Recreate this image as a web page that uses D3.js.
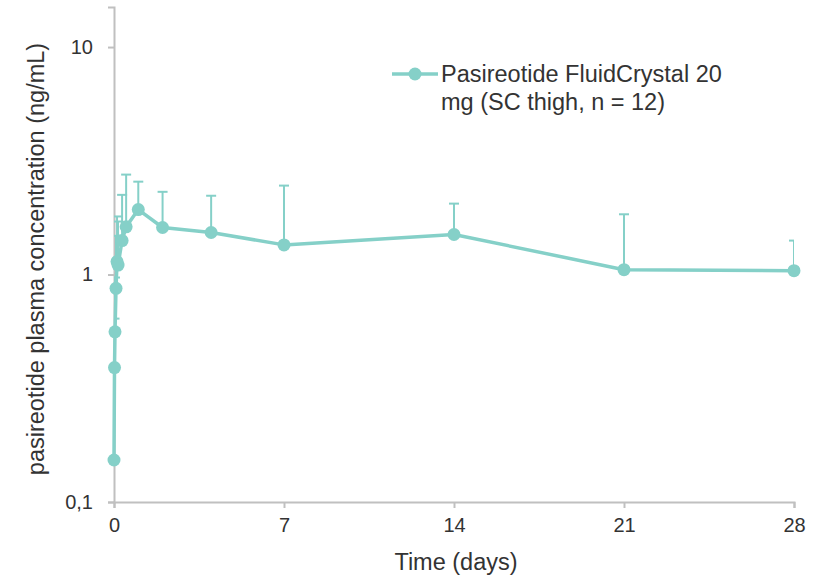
<!DOCTYPE html>
<html>
<head>
<meta charset="utf-8">
<script src="https://cdn.jsdelivr.net/npm/d3@7"></script>
<style>
  body { margin: 0; background: #fff; }
  text { font-family: "Liberation Sans", Arial, sans-serif; fill: #333; }
</style>
</head>
<body>
<svg id="chart" width="814" height="577"></svg>
<script>
// time in days
var days = [0, 0.0208, 0.0417, 0.0833, 0.125, 0.1667, 0.333, 0.5, 1, 2, 4, 7, 14, 21, 28];
// mean concentration ng/mL
var conc = [0.153, 0.39, 0.56, 0.87, 1.14, 1.10, 1.41, 1.62, 1.93, 1.61, 1.53, 1.35, 1.50, 1.05, 1.04];
// mean + SD (upper end of the error bar)
var upper = [0.153, 0.64, 0.97, 1.48, 1.80, 1.71, 2.24, 2.75, 2.56, 2.31, 2.22, 2.46, 2.05, 1.84, 1.41];
var xTicks = [0, 7, 14, 21, 28];
var yTicks = [0.1, 1, 10];
var seriesName = ["Pasireotide FluidCrystal 20", "mg (SC thigh, n = 12)"];

var color = "#85d0c8";
var axisColor = "#c0c0c0";

var svg = d3.select("#chart");
var mLeft = 114, mRight = 794, mTop = 7, mBottom = 502;

var x = d3.scaleLinear().domain([0, 28]).range([mLeft, mRight]);
var y = d3.scaleLog().domain([0.1, 15]).range([mBottom, mTop]);

var data = days.map(function(d, i) {
  return { t: d, v: conc[i], hi: upper[i] };
});

// axes
var xAxis = svg.append("g")
  .attr("transform", "translate(0," + mBottom + ")")
  .call(d3.axisBottom(x).tickValues(xTicks).tickSize(6).tickPadding(10).tickFormat(d3.format("d")));
var yAxis = svg.append("g")
  .attr("transform", "translate(" + mLeft + ",0)")
  .call(d3.axisLeft(y).tickValues(yTicks).tickSize(6).tickPadding(15)
    .tickFormat(function(d) { return String(d).replace(".", ","); }));

[xAxis, yAxis].forEach(function(g) {
  g.select(".domain").attr("stroke", axisColor).attr("stroke-width", 2);
  g.selectAll(".tick line").attr("stroke", axisColor).attr("stroke-width", 2);
  g.selectAll(".tick text")
    .attr("fill", "#333")
    .style("font-family", "'Liberation Sans', Arial, sans-serif")
    .style("font-size", "20px");
});

// error bars, clipped to plot area
svg.append("clipPath").attr("id", "plotClip")
  .append("rect").attr("x", mLeft).attr("y", 0).attr("width", mRight - mLeft).attr("height", mBottom);

var err = svg.append("g").attr("clip-path", "url(#plotClip)")
  .selectAll("g").data(data.filter(function(d) { return d.hi > d.v; }))
  .enter().append("g");
err.append("line")
  .attr("x1", function(d) { return x(d.t); })
  .attr("x2", function(d) { return x(d.t); })
  .attr("y1", function(d) { return y(d.v); })
  .attr("y2", function(d) { return y(d.hi); })
  .attr("stroke", color).attr("stroke-width", 2);
err.append("line")
  .attr("x1", function(d) { return x(d.t) - 5; })
  .attr("x2", function(d) { return x(d.t) + 5; })
  .attr("y1", function(d) { return y(d.hi); })
  .attr("y2", function(d) { return y(d.hi); })
  .attr("stroke", color).attr("stroke-width", 2);

// line
var line = d3.line().x(function(d) { return x(d.t); }).y(function(d) { return y(d.v); });
svg.append("path").datum(data)
  .attr("d", line)
  .attr("fill", "none")
  .attr("stroke", color)
  .attr("stroke-width", 3.5)
  .attr("stroke-linejoin", "round");

svg.append("g").selectAll("circle").data(data).enter().append("circle")
  .attr("cx", function(d) { return x(d.t); })
  .attr("cy", function(d) { return y(d.v); })
  .attr("r", 6.5)
  .attr("fill", color);

// axis titles
svg.append("text")
  .attr("x", 456)
  .attr("y", 570)
  .attr("text-anchor", "middle")
  .style("font-size", "23.5px")
  .text("Time (days)");

svg.append("text")
  .attr("transform", "translate(44,259) rotate(-90)")
  .attr("text-anchor", "middle")
  .style("font-size", "23.5px")
  .text("pasireotide plasma concentration (ng/mL)");

// legend
var lg = svg.append("g").attr("transform", "translate(392,74)");
lg.append("line").attr("x1", 0).attr("x2", 46).attr("y1", 0).attr("y2", 0)
  .attr("stroke", color).attr("stroke-width", 3.5);
lg.append("circle").attr("cx", 23).attr("cy", 0).attr("r", 6.5).attr("fill", color);
lg.append("text").attr("x", 49).attr("y", 0)
  .style("font-size", "23.5px")
  .selectAll("tspan").data(seriesName).enter().append("tspan")
  .attr("x", 49)
  .attr("dy", function(d, i) { return i === 0 ? "0.35em" : "28px"; })
  .text(function(d) { return d; });
</script>
</body>
</html>
